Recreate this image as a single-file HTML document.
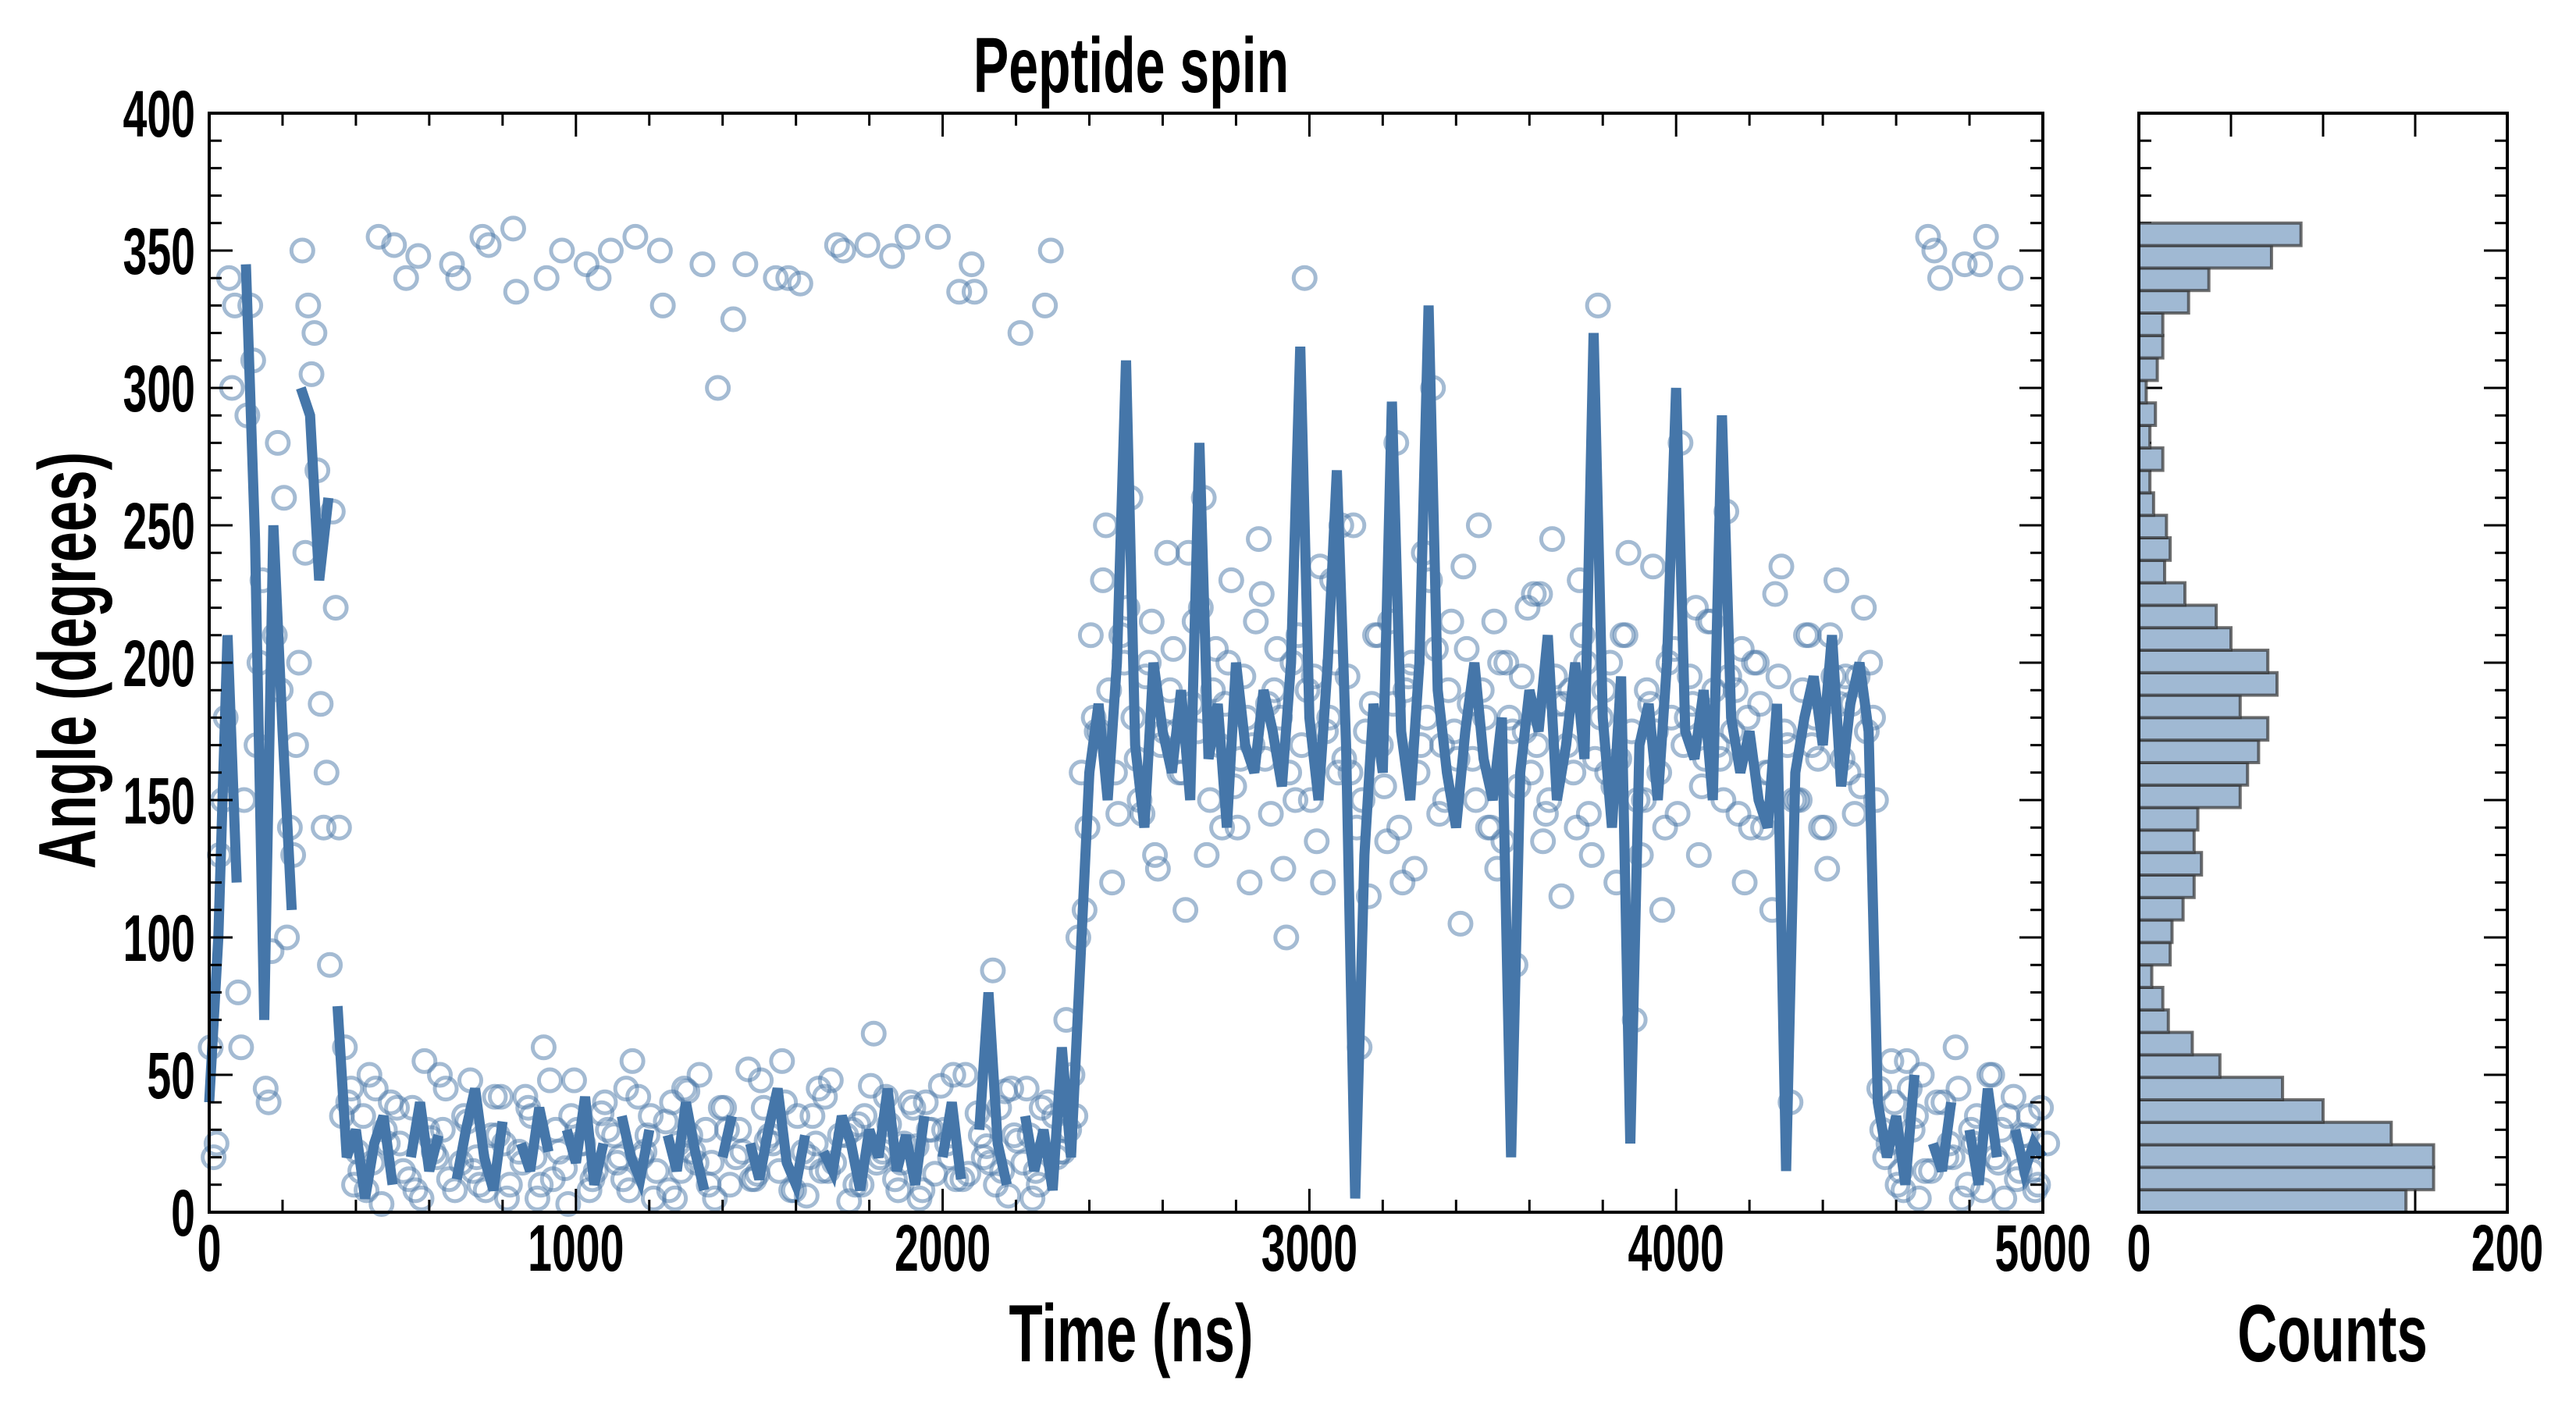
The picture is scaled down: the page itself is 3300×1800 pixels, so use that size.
<!DOCTYPE html>
<html><head><meta charset="utf-8"><style>
html,body{margin:0;padding:0;background:#fff;}
svg{display:block;}
text{font-family:"Liberation Sans Narrow","Liberation Sans",sans-serif;font-weight:bold;fill:#000;}
</style></head><body>
<svg id="chart" width="3300" height="1800" viewBox="0 0 3300 1800" xmlns="http://www.w3.org/2000/svg">
<g id="main"></g>
<g id="hist"></g>
<text x="0" y="0" font-size="100" text-anchor="middle" transform="translate(1449,118) scale(0.68,1)">Peptide spin</text>
<text x="0" y="0" font-size="104" text-anchor="middle" transform="translate(1449,1744) scale(0.68,1)">Time (ns)</text>
<text x="0" y="0" font-size="104" text-anchor="middle" transform="translate(122,846) rotate(-90) scale(0.68,1)">Angle (degrees)</text>
<text x="0" y="0" font-size="104" text-anchor="middle" transform="translate(2988,1744) scale(0.68,1)">Counts</text>
</svg>
<script>
const lineAngles = [40,100,210,120,345,245,70,250,175,110,300,290,230,260,75,20,
30,5,25,35,10,345,20,40,15,28,350,12,30,45,20,8,33,340,25,15,38,22,355,30,18,42,10,25,350,35,20,12,30,345,28,15,40,22,8,275,20,35,348,25,12,30,45,18,10,28,340,22,15,35,25,8,30,20,45,15,28,10,35,350,20,40,12,345,30,80,25,10,325,35,15,30,8,60,
20,90,160,185,150,200,310,170,140,200,175,160,190,150,280,165,185,140,200,170,160,190,175,155,200,315,180,150,200,270,170,5,130,185,160,295,175,150,200,330,190,160,140,175,200,165,150,180,20,160,190,175,210,150,170,200,165,320,180,140,195,25,170,185,150,200,300,175,165,190,150,290,180,160,175,150,140,185,15,160,180,195,170,210,155,185,200,175,
40,20,35,10,50,348,25,15,40,340,30,10,45,20,350,30,15,25,20];
const lineStep = 25;
const scatterAngles = [20,150,300,60,330,200,40,280,100,170,240,320,140,255,35,45,
15,50,355,25,38,340,8,55,22,30,345,18,48,10,352,28,5,335,42,20,60,12,350,35,25,8,340,30,18,45,355,22,5,330,40,15,28,50,10,300,30,20,345,12,38,25,55,8,338,20,45,15,352,28,10,35,65,22,348,18,40,5,30,355,25,12,50,335,20,88,15,45,320,28,10,40,20,70,
35,110,180,230,120,210,260,150,200,125,240,175,110,215,260,190,140,230,165,120,245,185,205,100,150,340,195,120,230,250,160,60,115,210,135,280,190,125,240,300,170,215,105,185,250,140,125,200,90,175,225,135,245,115,190,230,145,330,160,120,210,70,150,235,110,180,280,195,130,215,170,255,190,120,200,140,110,235,40,150,210,165,125,230,195,145,220,180,
30,55,15,45,5,355,40,20,60,345,25,8,50,30,340,15,35,10,25];
const scatterAngles2 = [60,130,340,80,290,170,45,210,260,130,350,305,185,90,140,40,
22,8,45,30,352,15,38,5,27,50,12,340,33,20,8,42,25,358,18,35,10,48,22,3,30,345,15,40,28,12,55,20,35,350,8,25,44,18,30,5,38,325,22,12,48,28,15,340,35,6,25,42,18,350,30,10,46,20,32,8,355,24,40,14,30,50,12,345,28,18,38,6,26,45,15,330,35,22,
50,160,210,175,190,145,220,165,195,130,175,205,160,185,220,150,170,200,140,180,215,165,190,125,200,170,150,235,180,160,195,140,175,210,155,185,120,200,170,230,145,190,165,205,150,180,215,135,175,195,160,225,150,185,170,140,200,165,190,155,210,175,130,185,160,200,145,180,220,165,190,150,175,205,140,185,160,195,170,150,210,180,140,195,165,185,155,200,
45,25,10,55,35,15,350,40,20,5,30,345,50,18,35,12,28,8];
const scatterAngles3 = [25,180,330,150,310,230,95,190,140,200,330,270,160,220,60,10,
35,18,3,40,25,12,348,30,20,45,8,35,15,355,28,42,10,22,38,5,340,30,16,48,25,12,36,350,20,8,42,28,15,33,5,45,22,345,18,38,10,30,52,14,26,340,40,8,22,35,15,48,28,4,32,352,18,42,12,25,38,8,30,46,20,335,14,36,24,10,44,28,18,5,38,350,22,30,
100,140,175,250,160,200,180,145,215,170,190,160,240,175,130,205,185,155,195,170,225,145,180,160,210,190,135,175,200,165,250,150,185,170,215,140,195,160,180,205,150,175,235,165,190,140,200,180,155,220,170,145,195,185,160,210,130,180,200,165,240,150,190,175,140,205,170,185,155,215,165,195,145,180,200,160,225,175,150,190,170,140,210,185,160,195,175,150,
20,40,8,30,50,15,340,25,45,10,35,355,20,5,42,28,15,38];
const scatterStep = 25;
const scatterOffsets = [12,4,20];
const histBinWidth = 360/44;
const histCounts = [145,160,160,137,100,78,44,29,16,13,7,17,18,24,30,34,30,32,55,59,65,70,55,75,70,50,42,25,14,17,15,8,6,13,6,9,4,10,13,13,27,38,72,88];
const xTicks = [0,1000,2000,3000,4000,5000];
const yTicks = [0,50,100,150,200,250,300,350,400];
const histXTickLabels = [0,200];

const NS='http://www.w3.org/2000/svg';
const L=268,R=2617,T=145,B=1553,HL=2740,HR=3212;
const xs=t=>L+t/5000*(R-L);
const ys=a=>B-a/400*(B-T);
const hx=c=>HL+c/200*(HR-HL);
function mk(tag,attrs,parent){const e=document.createElementNS(NS,tag);for(const k in attrs)e.setAttribute(k,attrs[k]);parent.appendChild(e);return e;}
const main=document.getElementById('main'), hist=document.getElementById('hist');

[scatterAngles,scatterAngles2,scatterAngles3].forEach((arr,k)=>{
  arr.forEach((a,i)=>{
    const c=mk('circle',{cx:xs(scatterOffsets[k]+i*scatterStep),cy:ys(a),r:14,fill:'none',stroke:'#4a78a8','stroke-opacity':0.5,'stroke-width':5},main);
    
    
  });
});
let d='';
lineAngles.forEach((a,i)=>{
  const x=xs(i*lineStep),y=ys(a);
  if(i===0||Math.abs(a-lineAngles[i-1])>180) d+='M'+x.toFixed(1)+' '+y.toFixed(1);
  else d+='L'+x.toFixed(1)+' '+y.toFixed(1);
});
const ln=mk('path',{d:d,fill:'none',stroke:'#4576a9','stroke-width':13,'stroke-linejoin':'miter'},main);



histCounts.forEach((c,i)=>{
  const y0=ys(i*histBinWidth),y1=ys((i+1)*histBinWidth);
  const r=mk('rect',{x:HL,y:y1,width:hx(c)-HL,height:y0-y1,fill:'#a0b9d3',stroke:'#333','stroke-opacity':0.7,'stroke-width':4},hist);
  
  
});

const f1=mk('rect',{x:L,y:T,width:R-L,height:B-T,fill:'none',stroke:'#000','stroke-width':4},main);


const f2=mk('rect',{x:HL,y:T,width:HR-HL,height:B-T,fill:'none',stroke:'#000','stroke-width':4},hist);



let tk='';
for(let t=0;t<=5000;t+=200){const x=xs(t),len=(t%1000===0)?30:16;tk+=`M${x} ${B}v${-len}M${x} ${T}v${len}`;}
for(let a=0;a<=400;a+=10){const y=ys(a),len=(a%50===0)?30:16;tk+=`M${L} ${y}h${len}M${R} ${y}h${-len}M${HL} ${y}h${len}M${HR} ${y}h${-len}`;}
for(let c=0;c<=200;c+=50){const x=hx(c);tk+=`M${x} ${B}v-30M${x} ${T}v30`;}
const tp=mk('path',{d:tk,stroke:'#000','stroke-width':3,fill:'none'},main);



const svg=document.getElementById('chart');
function label(txt,x,y,anchor,name){
  const e=mk('text',{x:0,y:0,'font-size':84,'text-anchor':anchor,transform:`translate(${x},${y}) scale(0.66,1)`},svg);
  e.textContent=txt;
  
  
}
xTicks.forEach(t=>label(t,xs(t),1628,'middle','x-tick-label'));
yTicks.forEach(a=>label(a,L-18,ys(a)+30,'end','y-tick-label'));
histXTickLabels.forEach(c=>label(c,hx(c),1628,'middle','hist-x-tick-label'));
</script>
</body></html>
